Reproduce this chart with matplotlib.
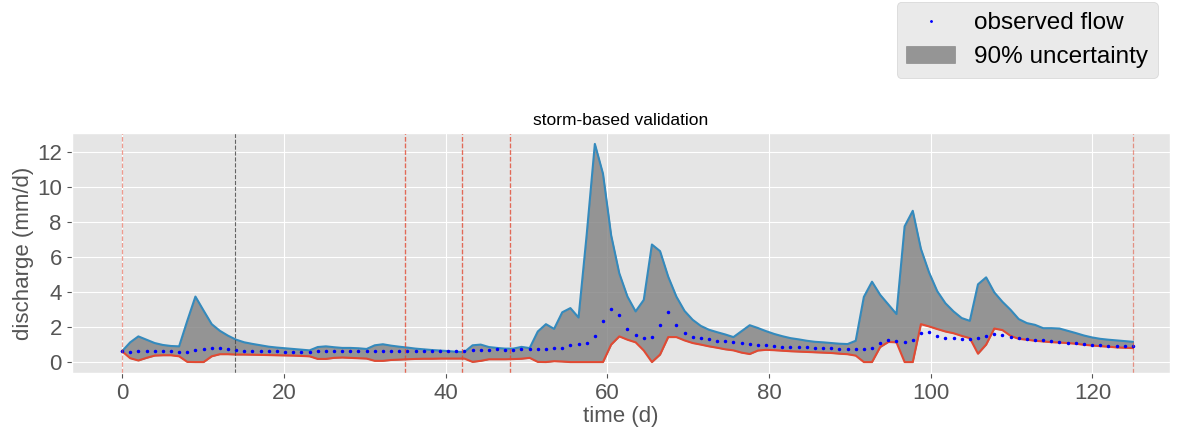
import numpy as np
import matplotlib
matplotlib.use("Agg")
import matplotlib.pyplot as plt

plt.style.use('ggplot')
plt.rcParams['font.family'] = ['Liberation Sans', 'DejaVu Sans']

# observed discharge and 90% bounds (mm/d), 125 samples spread over 0..125 d
obs = [0.62, 0.60, 0.62, 0.66, 0.64, 0.62, 0.62, 0.58, 0.60, 0.69,
       0.77, 0.83, 0.81, 0.75, 0.69, 0.66, 0.64, 0.63, 0.62, 0.62,
       0.60, 0.60, 0.60, 0.60, 0.62, 0.62, 0.62, 0.62, 0.62, 0.62,
       0.62, 0.66, 0.66, 0.66, 0.66, 0.66, 0.65, 0.64, 0.64, 0.62,
       0.62, 0.62, 0.64, 0.69, 0.69, 0.71, 0.73, 0.71, 0.71, 0.73,
       0.73, 0.73, 0.77, 0.81, 0.81, 0.96, 1.05, 1.09, 1.51, 2.33,
       3.01, 2.71, 1.87, 1.53, 1.38, 1.43, 2.14, 2.84, 2.10, 1.68,
       1.45, 1.40, 1.32, 1.23, 1.19, 1.14, 1.08, 1.05, 0.98, 0.95,
       0.91, 0.88, 0.86, 0.85, 0.84, 0.81, 0.79, 0.78, 0.77, 0.77,
       0.77, 0.77, 0.80, 1.10, 1.28, 1.20, 1.14, 1.27, 1.64, 1.70,
       1.51, 1.40, 1.36, 1.34, 1.34, 1.36, 1.47, 1.59, 1.57, 1.45,
       1.35, 1.31, 1.28, 1.28, 1.20, 1.16, 1.12, 1.09, 1.05, 0.99,
       0.97, 0.93, 0.93, 0.91, 0.90]

upper = [0.62, 1.13, 1.47, 1.28, 1.09, 0.98, 0.92, 0.90, 2.36, 3.75,
         2.95, 2.17, 1.79, 1.51, 1.28, 1.13, 1.04, 0.96, 0.88, 0.83,
         0.79, 0.75, 0.71, 0.67, 0.86, 0.90, 0.85, 0.81, 0.81, 0.79,
         0.75, 0.96, 1.02, 0.94, 0.88, 0.83, 0.77, 0.73, 0.69, 0.66,
         0.63, 0.59, 0.58, 0.96, 1.00, 0.86, 0.81, 0.77, 0.77, 0.87,
         0.80, 1.75, 2.17, 1.90, 2.85, 3.09, 2.55, 7.30, 12.49, 10.78,
         7.26, 5.08, 3.75, 2.90, 3.56, 6.73, 6.35, 4.89, 3.75, 2.93,
         2.42, 2.07, 1.85, 1.71, 1.58, 1.43, 1.77, 2.11, 1.95, 1.77,
         1.61, 1.48, 1.37, 1.30, 1.22, 1.16, 1.13, 1.09, 1.05, 1.03,
         1.22, 3.73, 4.60, 3.85, 3.30, 2.75, 7.77, 8.66, 6.48, 5.13,
         4.06, 3.37, 2.90, 2.52, 2.36, 4.45, 4.85, 3.99, 3.45, 2.99,
         2.46, 2.23, 2.13, 1.94, 1.94, 1.92, 1.79, 1.66, 1.52, 1.41,
         1.33, 1.28, 1.24, 1.20, 1.16]

lower = [0.62, 0.22, 0.09, 0.24, 0.37, 0.39, 0.39, 0.33, 0.01, 0.00,
         0.00, 0.33, 0.45, 0.45, 0.43, 0.43, 0.42, 0.41, 0.40, 0.39,
         0.38, 0.37, 0.35, 0.33, 0.18, 0.18, 0.24, 0.26, 0.24, 0.22,
         0.20, 0.07, 0.07, 0.12, 0.14, 0.16, 0.18, 0.19, 0.19, 0.20,
         0.20, 0.20, 0.20, 0.01, 0.07, 0.16, 0.16, 0.16, 0.17, 0.19,
         0.24, 0.01, 0.00, 0.05, 0.03, 0.00, 0.00, 0.00, 0.00, 0.00,
         1.00, 1.47, 1.28, 1.13, 0.66, 0.00, 0.43, 1.43, 1.43, 1.24,
         1.09, 1.00, 0.90, 0.82, 0.73, 0.67, 0.54, 0.46, 0.66, 0.70,
         0.68, 0.65, 0.62, 0.60, 0.58, 0.56, 0.54, 0.52, 0.48, 0.45,
         0.37, 0.00, 0.00, 0.86, 1.15, 1.13, 0.00, 0.00, 2.17, 2.04,
         1.89, 1.75, 1.65, 1.50, 1.37, 0.48, 1.00, 1.92, 1.83, 1.50,
         1.33, 1.28, 1.22, 1.18, 1.14, 1.12, 1.09, 1.05, 0.99, 0.95,
         0.91, 0.88, 0.84, 0.82, 0.80]

# storm windows (start, end) in days; shared boundaries get drawn twice
storms = [(0, 35), (35, 42), (42, 48), (48, 125)]
split_day = 14

t = np.linspace(0, 125, len(obs))

fig = plt.figure(figsize=(11.82, 4.37), dpi=100)
ax = fig.add_axes([0.0605, 0.1465, 0.9294, 0.5492])

ax.plot(t, upper, color='#348ABD', lw=1.5)
ax.plot(t, lower, color='#E24A33', lw=1.5)
ax.fill_between(t, lower, upper, color='grey', alpha=0.8, label='90% uncertainty')
ax.plot(t, obs, 'b.', markersize=3, label='observed flow')

for start, end in storms:
    ax.axvline(start, color='#E24A33', ls='--', lw=0.9, alpha=0.55)
    ax.axvline(end, color='#E24A33', ls='--', lw=0.9, alpha=0.55)
ax.axvline(split_day, color='#444444', ls='--', lw=0.8, alpha=0.8)

ax.set_xlim(-6.25, 129.6)
ax.set_xticks(np.arange(0, 121, 20))
ax.set_yticks(np.arange(0, 13, 2))
ax.tick_params(labelsize=16)
ax.set_xlabel('time (d)', fontsize=16, labelpad=2)
ax.set_ylabel('discharge (mm/d)', fontsize=16, labelpad=2)
ax.set_title('storm-based validation', fontsize=12.5, color='black')

handles, labels = ax.get_legend_handles_labels()
fig.legend(handles[::-1], labels[::-1], loc='lower right', fontsize=17.5,
           markerscale=0.7, bbox_to_anchor=(0.9797, 0.8215), borderaxespad=0)

fig.savefig('out.png', dpi=100)
